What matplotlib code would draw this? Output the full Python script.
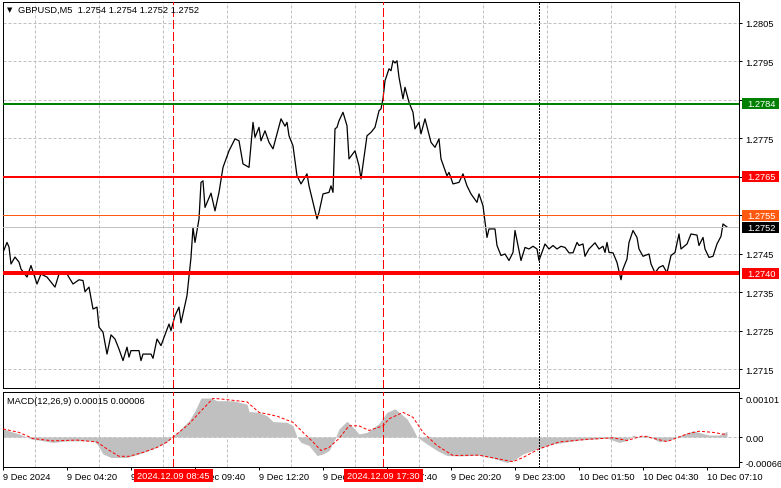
import matplotlib
matplotlib.use('Agg')
import matplotlib.pyplot as plt
from matplotlib.patches import Rectangle

plt.rcParams['font.family'] = ['Liberation Sans', 'DejaVu Sans']
plt.rcParams['font.size'] = 6.7

# GBPUSD M5, bar numbers counted from 9 Dec 01:40
bar = [0, 2, 3, 4, 6, 8, 9, 12, 14, 17, 19, 22, 26, 28, 32, 35, 38, 40, 41, 43,
       45, 47, 48, 50, 52, 54, 56, 58, 60, 62, 63, 64, 68, 69, 70, 74, 75, 77, 79, 83,
       84, 86, 88, 89, 92, 94, 95, 96, 98, 99, 100, 101, 104, 106, 108, 110, 113, 116, 118, 120,
       123, 125, 126, 128, 129, 131, 133, 135, 137, 139, 141, 142, 143, 145, 147, 149, 152, 153, 155, 157,
       158, 160, 163, 164, 165, 166, 167, 168, 170, 172, 173, 176, 178, 179, 182, 184, 186, 188, 189, 190,
       191, 193, 194, 195, 196, 197, 198, 200, 201, 203, 205, 206, 208, 209, 211, 214, 216, 218, 219, 222,
       223, 225, 228, 230, 232, 234, 237, 238, 240, 242, 243, 246, 247, 249, 251, 253, 255, 256, 259, 261,
       263, 265, 267, 268, 271, 273, 275, 277, 279, 281, 283, 285, 287, 288, 290, 291, 293, 296, 298, 300,
       301, 302, 303, 305, 307, 309, 310, 312, 313, 315, 317, 318, 320, 323, 324, 326, 328, 330, 332, 334,
       336, 338, 339, 342, 344, 347, 348, 350, 351, 353, 355, 357, 359, 360, 362]
close = [1.27454, 1.27480, 1.27468, 1.27424, 1.27442, 1.27429, 1.27411, 1.27390, 1.27420, 1.27372,
         1.27398, 1.27390, 1.27364, 1.27398, 1.27398, 1.27372, 1.27383, 1.27381, 1.27352, 1.27364,
         1.27307, 1.27312, 1.27260, 1.27247, 1.27190, 1.27240, 1.27229, 1.27203, 1.27173, 1.27208,
         1.27182, 1.27199, 1.27199, 1.27173, 1.27190, 1.27190, 1.27179, 1.27229, 1.27212, 1.27268,
         1.27251, 1.27290, 1.27312, 1.27271, 1.27342, 1.27441, 1.27519, 1.27480, 1.27541, 1.27636,
         1.27640, 1.27571, 1.27608, 1.27562, 1.27610, 1.27675, 1.27718, 1.27749, 1.27744, 1.27684,
         1.27675, 1.27792, 1.27753, 1.27779, 1.27744, 1.27770, 1.27740, 1.27723, 1.27762, 1.27801,
         1.27782, 1.27792, 1.27757, 1.27731, 1.27653, 1.27632, 1.27658, 1.27627, 1.27584, 1.27541,
         1.27558, 1.27606, 1.27610, 1.27627, 1.27610, 1.27775, 1.27779, 1.27796, 1.27818, 1.27783,
         1.27697, 1.27718, 1.27679, 1.27645, 1.27757, 1.27766, 1.27779, 1.27822, 1.27827, 1.27853,
         1.27900, 1.27931, 1.27926, 1.27952, 1.27946, 1.27952, 1.27909, 1.27853, 1.27883, 1.27844,
         1.27818, 1.27775, 1.27792, 1.27762, 1.27801, 1.27740, 1.27727, 1.27749, 1.27697, 1.27653,
         1.27662, 1.27632, 1.27636, 1.27658, 1.27627, 1.27606, 1.27584, 1.27606, 1.27575, 1.27493,
         1.27515, 1.27515, 1.27472, 1.27446, 1.27450, 1.27433, 1.27454, 1.27511, 1.27433, 1.27467,
         1.27463, 1.27470, 1.27463, 1.27433, 1.27476, 1.27463, 1.27472, 1.27463, 1.27470, 1.27467,
         1.27453, 1.27453, 1.27480, 1.27472, 1.27476, 1.27444, 1.27463, 1.27479, 1.27463, 1.27470,
         1.27454, 1.27480, 1.27454, 1.27453, 1.27428, 1.27383, 1.27411, 1.27437, 1.27480, 1.27511,
         1.27493, 1.27463, 1.27444, 1.27450, 1.27424, 1.27401, 1.27415, 1.27420, 1.27401, 1.27446,
         1.27454, 1.27502, 1.27463, 1.27476, 1.27502, 1.27499, 1.27472, 1.27493, 1.27463, 1.27441,
         1.27444, 1.27476, 1.27496, 1.27528, 1.27520]

hist_bar = [0, 8, 14, 25, 32, 45, 47, 50, 54, 62, 68, 75, 82, 85, 88, 93, 96, 99, 104, 107,
            115, 122, 123, 128, 132, 135, 142, 145, 147, 149, 153, 157, 160, 163, 166, 168, 172, 175, 178, 182,
            188, 192, 196, 198, 202, 205, 207, 212, 217, 222, 228, 238, 245, 252, 255, 260, 267, 275, 288, 302,
            308, 312, 315, 318, 322, 328, 333, 338, 345, 353, 358, 362]
hist_val = [0.00021, 0.00008, -0.00005, -0.00014, -0.00010, -0.00010, -0.00018, -0.00044, -0.00053, -0.00053,
            -0.00044, -0.00031, -0.00013, 0.00003, 0.00016, 0.00042, 0.00068, 0.00101, 0.00101, 0.00094,
            0.00094, 0.00085, 0.00066, 0.00064, 0.00055, 0.00040, 0.00038, 0.00029, 0.0, -0.00014,
            -0.00022, -0.00048, -0.00044, -0.00035, -0.00005, 0.00021, 0.00041, 0.00025, 0.00008, 0.00012,
            0.00035, 0.00064, 0.00073, 0.00064, 0.00047, 0.00021, 0.0, -0.00018, -0.00035, -0.00048,
            -0.00049, -0.00047, -0.00055, -0.00066, -0.00061, -0.00044, -0.00031, -0.00018, -0.00008, -0.00003,
            -0.00014, -0.00009, 0.00005, 0.0, 0.00005, -0.00012, -0.00009, 0.00003, 0.00016, 0.00005,
            0.00005, 0.00015]

sig_bar = [0, 8, 15, 25, 37, 47, 52, 58, 63, 70, 77, 82, 87, 93, 100, 105, 108, 115, 122, 128,
           137, 145, 150, 155, 159, 163, 168, 173, 178, 183, 190, 193, 200, 205, 210, 217, 225, 238, 248, 255,
           260, 268, 278, 292, 305, 312, 320, 332, 342, 348, 355, 362]
sig_val = [0.00021, 0.00012, -0.00004, -0.00010, -0.00008, -0.00013, -0.00031, -0.00050, -0.00050, -0.00040,
           -0.00027, -0.00013, 0.00008, 0.00034, 0.00073, 0.00100, 0.00099, 0.00095, 0.00091, 0.00064,
           0.00054, 0.00038, 0.00012, -0.00013, -0.00035, -0.00027, -0.00004, 0.00029, 0.00029, 0.00017,
           0.00029, 0.00047, 0.00064, 0.00051, 0.00012, -0.00022, -0.00048, -0.00047, -0.00057, -0.00064,
           -0.00053, -0.00031, -0.00013, -0.00006, -0.00002, -0.00009, 0.00003, -0.00012, 0.00008, 0.00015,
           0.00012, 0.00006]

levels = [1.2784, 1.2765, 1.2755, 1.2752, 1.2740]
level_colors = ['#008000', '#ff0000', '#ff5a10', '#c0c0c0', '#ff0000']
level_px = [2, 2, 1, 1, 4]
tag_colors = ['#008000', '#ff0000', '#ff5a10', '#000000', '#ff0000']

price_ticks = [1.2715, 1.2725, 1.2735, 1.2745, 1.2755, 1.2765, 1.2775, 1.2785, 1.2795, 1.2805]
macd_ticks = [0.00101, 0.0, -0.00066]
macd_tick_labels = ['0.00101', '0.00', '-0.00066']
time_ticks = [0, 32, 64, 96, 128, 160, 192, 224, 256, 288, 320, 352]
time_labels = ['9 Dec 2024', '9 Dec 04:20', '9 Dec 07:00', '9 Dec 09:40', '9 Dec 12:20', '9 Dec 15:00',
               '9 Dec 17:40', '9 Dec 20:20', '9 Dec 23:00', '10 Dec 01:50', '10 Dec 04:30', '10 Dec 07:10']
event_bars = [85, 190]
event_labels = ['2024.12.09 08:45', '2024.12.09 17:30']
day_sep = 268
n_bars = 368

W, H = 781, 489
fig = plt.figure(figsize=(W / 100, H / 100), dpi=100)
ax = fig.add_axes([3 / W, 100 / H, 736 / W, 386 / H])
ax2 = fig.add_axes([3 / W, 21 / H, 736 / W, 75 / H])
PX = 0.72  # one pixel in points

grid_kw = dict(color='#c0c0c0', lw=PX, ls=(0, (3, 2)))
for a in (ax, ax2):
    a.set_xlim(0, n_bars)
    a.set_xticks(range(16, n_bars, 16), minor=True)
    a.grid(True, which='minor', axis='x', **grid_kw)
    for s in a.spines.values():
        s.set_linewidth(PX)
        s.set_color('black')
    a.yaxis.tick_right()
    a.tick_params(axis='y', which='major', length=3 * PX, width=PX, pad=2.5, labelsize=6.7)
    a.tick_params(axis='x', which='minor', length=0)
    for b in event_bars:
        a.axvline(b, color='#ff0000', lw=1.2 * PX, ls=(0, (7, 3)), zorder=4, antialiased=False)
    a.axvline(day_sep, color='black', lw=PX, ls=(0, (2, 2)), zorder=4, antialiased=False)

# price panel
ax.set_ylim(1.271019, 1.281045)
ax.set_yticks(price_ticks)
ax.set_yticklabels(['%.4f' % p for p in price_ticks])
ax.grid(True, which='major', axis='y', **grid_kw)
ax.set_xticks(time_ticks)
ax.tick_params(axis='x', which='major', bottom=False, labelbottom=False)
ax.plot(bar, close, color='black', lw=0.9, zorder=3)

tr = ax.get_yaxis_transform()
tag_h = 11 * (1.281045 - 1.271019) / 386
for lv, c, w, tc in zip(levels, level_colors, level_px, tag_colors):
    ax.axhline(lv, color=c, lw=w * PX, zorder=5, antialiased=False)
    ax.add_patch(Rectangle((1 + 2.5 / 736, lv - tag_h / 2), 37 / 736, tag_h, transform=tr,
                           fc=tc, ec='none', clip_on=False, zorder=6))
    ax.text(1 + 8 / 736, lv, '%.4f' % lv, transform=tr, color='white', ha='left',
            va='center', zorder=7, clip_on=False)

# MACD panel
ax2.set_ylim(-0.000777, 0.001166)
ax2.set_yticks(macd_ticks)
ax2.set_yticklabels(macd_tick_labels)
ax2.axhline(0, **grid_kw)
ax2.fill_between(hist_bar, 0, hist_val, color='#c0c0c0', lw=0, zorder=2)
ax2.plot(sig_bar, sig_val, color='#ff0000', lw=PX, ls=(0, (3, 2)), zorder=3)
ax2.set_xticks(time_ticks)
ax2.set_xticklabels(time_labels)
ax2.tick_params(axis='x', which='major', length=3 * PX, width=PX, pad=1.4, labelsize=6.7)
for lbl in ax2.get_xticklabels():
    lbl.set_ha('left')
ax2.text(4 / 736, 0.88, 'MACD(12,26,9) 0.00015 0.00006', transform=ax2.transAxes,
         ha='left', va='center')

# vertical line tags on the time axis
tr2 = ax2.get_xaxis_transform()
for b, t in zip(event_bars, event_labels):
    ax2.add_patch(Rectangle((b - 39.5 / 2, -(2 + 13) / 75), 79 / 2, 13 / 75, transform=tr2,
                            fc='#ff0000', ec='none', clip_on=False, zorder=10))
    ax2.text(b, -(2 + 6.5) / 75, t, transform=tr2, color='white', ha='center', va='center',
             zorder=11, clip_on=False)

# header
fig.text(10 / W, 1 - 10 / H, '\u25bc', fontsize=5, ha='center', va='center',
         family=['DejaVu Sans'])
fig.text(18 / W, 1 - 10 / H, 'GBPUSD,M5  1.2754 1.2754 1.2752 1.2752', ha='left', va='center')

fig.savefig('out.png', dpi=100)
